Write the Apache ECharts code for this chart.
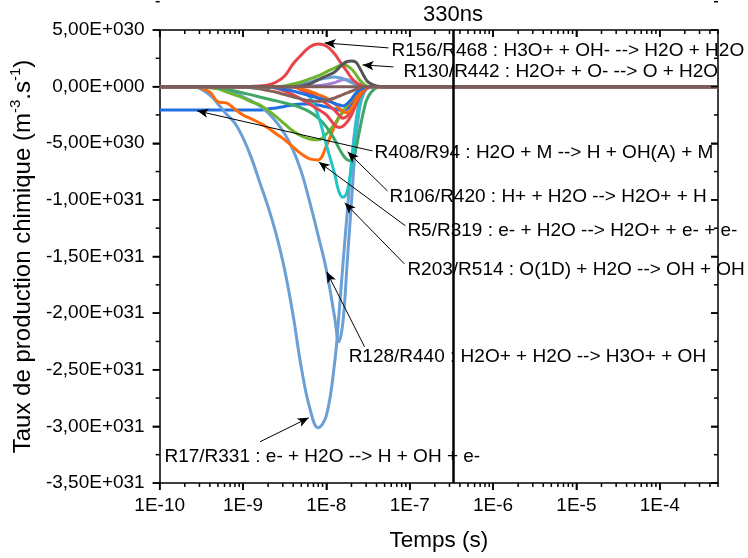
<!DOCTYPE html>
<html><head><meta charset="utf-8">
<script src="https://cdn.jsdelivr.net/npm/echarts@6/dist/echarts.min.js"></script>
<style>html,body{margin:0;padding:0;background:#fff}#c{width:748px;height:558px}</style>
</head><body><div id="c"></div>
<script>
// ---- data (time in s, production rate in m^-3.s^-1) ----
const times = [1e-10, 2.51e-10, 3.98e-10, 5.01e-10, 6.31e-10, 7.94e-10, 1e-9, 1.26e-9, 1.58e-9, 2.0e-9,
  2.51e-9, 3.16e-9, 3.98e-9, 5.01e-9, 6.31e-9, 7.94e-9, 1e-8, 1.26e-8, 1.41e-8, 1.58e-8,
  1.78e-8, 2.0e-8, 2.24e-8, 2.51e-8, 2.82e-8, 3.16e-8, 3.98e-8, 5.01e-8, 1e-7, 5e-4];

const r408 = [-2.06e30,-2.06e30,-2.06e30,-2.06e30,-2.06e30,-2.06e30,-2.06e30,-2.06e30,-2.06e30,-1.97e30,
  -1.88e30,-1.75e30,-1.62e30,-1.53e30,-1.53e30,-1.62e30,-1.79e30,-1.97e30,-2.06e30,-2.10e30,
  -1.97e30,-1.53e30,-0.91e30,-0.38e30,-0.11e30,-0.03e30,0,0,0,0];
const r17 = [0,0,-0.73e30,-1.53e30,-2.42e30,-3.21e30,-4.53e30,-6.29e30,-8.41e30,-10.62e30,
  -13.09e30,-16.18e30,-20.15e30,-24.83e30,-28.36e30,-30.12e30,-29.06e30,-24.3e30,-20.3e30,-15.7e30,
  -11.1e30,-6.73e30,-3.29e30,-1.26e30,-0.38e30,-0.07e30,0,0,0,0];
const r128 = [0,0,0,-0.11e30,-0.29e30,-0.56e30,-0.91e30,-1.26e30,-1.7e30,-2.32e30,
  -3.12e30,-4.17e30,-5.59e30,-7.53e30,-10.18e30,-13.09e30,-16.18e30,-20.42e30,-22.53e30,-20.77e30,
  -15.47e30,-10.18e30,-5.15e30,-1.88e30,-0.56e30,-0.11e30,0,0,0,0];
const r5 = [0,0,-0.47e30,-1.35e30,-1.44e30,-1.97e30,-2.5e30,-2.85e30,-3.21e30,-3.65e30,
  -4.18e30,-4.7e30,-5.32e30,-5.94e30,-6.38e30,-6.47e30,-5.23e30,-3.47e30,-2.76e30,-2.23e30,
  -1.7e30,-1.26e30,-0.82e30,-0.47e30,-0.2e30,-0.07e30,0,0,0,0];
const limeNeg = [0,0,-0.1e30,-0.2e30,-0.47e30,-0.73e30,-0.99e30,-1.35e30,-1.61e30,-2.1e30,
  -2.67e30,-3.3e30,-3.92e30,-4.36e30,-4.62e30,-4.7e30,-4.18e30,-3.3e30,-2.7e30,-2.23e30,
  -1.6e30,-1.15e30,-0.7e30,-0.4e30,-0.15e30,-0.05e30,0,0,0,0];
const r106 = [0,0,0,-0.11e30,-0.2e30,-0.38e30,-0.56e30,-0.73e30,-0.91e30,-1.09e30,
  -1.26e30,-1.44e30,-1.62e30,-1.88e30,-2.23e30,-2.76e30,-3.56e30,-4.7e30,-5.41e30,-6.03e30,
  -6.47e30,-6.56e30,-5.59e30,-3.82e30,-2.06e30,-0.91e30,-0.11e30,0,0,0];
const r203 = [0,0,0,0,0,0,0,0,0,0,
  0,0,-0.04e30,-0.2e30,-0.91e30,-2.5e30,-5.15e30,-7.73e30,-9.23e30,-9.76e30,
  -9.23e30,-6.9e30,-3.8e30,-1.44e30,-0.47e30,-0.11e30,0,0,0,0];
const redNegA = [0,0,0,0,0,0,0,0,0,-0.05e30,
  -0.15e30,-0.4e30,-0.7e30,-1.1e30,-1.55e30,-2.0e30,-2.5e30,-3.4e30,-3.6e30,-3.5e30,
  -3.1e30,-2.5e30,-1.7e30,-0.9e30,-0.4e30,-0.1e30,0,0,0,0];
const redNegB = [0,0,0,0,0,0,0,0,0,0,
  0,0,0,-0.3e30,-0.6e30,-1.0e30,-1.5e30,-2.1e30,-2.5e30,-2.8e30,
  -2.6e30,-2.0e30,-1.2e30,-0.6e30,-0.2e30,0,0,0,0,0];
const orangeNeg = [0,0,0,0,0,0,0,0,0,0,
  0,0,0,-0.2e30,-0.4e30,-0.7e30,-1.0e30,-1.5e30,-1.9e30,-2.2e30,
  -2.3e30,-1.9e30,-1.3e30,-0.7e30,-0.25e30,-0.05e30,0,0,0,0];
const blueNeg = [0,0,0,0,0,0,0,0,0,-0.05e30,
  -0.1e30,-0.25e30,-0.4e30,-0.6e30,-0.8e30,-1.0e30,-1.2e30,-1.5e30,-1.6e30,-1.7e30,
  -1.5e30,-1.1e30,-0.6e30,-0.3e30,-0.1e30,0,0,0,0,0];
const brownNeg = [0,0,0,0,0,0,-0.05e30,-0.1e30,-0.2e30,-0.35e30,
  -0.5e30,-0.7e30,-0.9e30,-1.1e30,-1.25e30,-1.3e30,-1.2e30,-1.0e30,-0.85e30,-0.7e30,
  -0.55e30,-0.4e30,-0.25e30,-0.1e30,0,0,0,0,0,0];
const purplePos = [0,0,0,0,0,0,0,0,0,0,
  0,0,0,0.02e30,0.05e30,0.1e30,0.2e30,0.35e30,0.5e30,0.6e30,
  0.6e30,0.5e30,0.35e30,0.2e30,0.08e30,0.02e30,0,0,0,0];
const lightBluePos = [0,0,0,0,0,0,0,0,0,0,
  0,0.02e30,0.05e30,0.2e30,0.4e30,0.6e30,0.75e30,0.85e30,0.8e30,0.7e30,
  0.55e30,0.35e30,0.2e30,0.08e30,0.02e30,0,0,0,0,0];
const limePos = [0,0,0,0,0,0,0,0,0,0,
  0,0.06e30,0.24e30,0.41e30,0.68e30,0.94e30,1.3e30,1.65e30,1.83e30,1.92e30,
  1.83e30,1.56e30,1.12e30,0.59e30,0.24e30,0.02e30,0,0,0,0];
const r156 = [0,0,0,0,0,0,0,0.02e30,0.06e30,0.15e30,
  0.41e30,0.94e30,2.0e30,2.8e30,3.5e30,3.77e30,3.59e30,2.88e30,2.36e30,1.83e30,
  1.3e30,0.77e30,0.41e30,0.15e30,0.02e30,0,0,0,0,0];
const r130 = [0,0,0,0,0,0,0,0,0,0,
  0,0,0,0.06e30,0.24e30,0.59e30,0.94e30,1.3e30,1.65e30,2.0e30,
  2.22e30,2.27e30,2.18e30,1.65e30,0.94e30,0.41e30,0.06e30,0,0,0];
const zeroLine = [0,0,0,0,0,0,0,0,0,0,0,0,0,0,0,0,0,0,0,0,0,0,0,0,0,0,0,0,0,0];

// ---- tick labels ----
const xMajorTicks = [1e-10, 1e-9, 1e-8, 1e-7, 1e-6, 1e-5, 1e-4];
const xMin = 1e-10, xMax = 5e-4;
const yMin = -3.5e31, yMax = 5e30, yStep = 5e30;
const markerTime = 3.3e-7;
const markerLabel = '330ns';

// ---- annotations: text, text anchor, arrow tail, arrow tip (data coords) ----
const noteTexts = [
  'R156/R468 : H3O+ + OH- --> H2O + H2O',
  'R130/R442 : H2O+ + O- --> O + H2O',
  'R408/R94 : H2O + M --> H + OH(A) + M',
  'R106/R420 : H+ + H2O --> H2O+ + H',
  'R5/R319 : e- + H2O --> H2O+ + e- + e-',
  'R203/R514 : O(1D) + H2O --> OH + OH',
  'R128/R440 : H2O+ + H2O --> H3O+ + OH',
  'R17/R331 : e- + H2O --> H + OH + e-'
];
const noteAnchors = [[6.04e-8,3.15e30],[8.41e-8,1.30e30],[3.78e-8,-5.85e30],[5.71e-8,-9.74e30],
  [9.38e-8,-12.74e30],[9.38e-8,-16.18e30],[1.85e-8,-23.86e30],[1.14e-10,-32.68e30]];
const noteTails = [[5.56e-8,3.42e30],[6.38e-8,1.74e30],[3.58e-8,-5.68e30],[5.41e-8,-9.21e30],
  [8.88e-8,-12.29e30],[8.64e-8,-15.65e30],[2.87e-8,-22.97e30],[1.60e-9,-31.36e30]];
const noteTips = [[9.55e-9,3.86e30],[2.72e-8,1.92e30],[2.82e-10,-2.14e30],[1.80e-8,-5.76e30],
  [8.10e-9,-6.65e30],[1.66e-8,-10.26e30],[1.01e-8,-16.35e30],[6.15e-9,-29.24e30]];

// ---- build ----
const FONT = '"Liberation Sans", Arial, sans-serif';
const xMinorTicks = [];
for (let e = -10; e <= -4; e++) for (let m = 2; m <= 9; m++) {
  const v = Number((m * Math.pow(10, e)).toPrecision(3));
  if (v <= xMax * 1.0001) xMinorTicks.push(v);
}
const yMajorTicks = [], yMinorTicks = [];
for (let k = 0; yMin + k * yStep <= yMax + 1; k++) {
  yMajorTicks.push(yMin + k * yStep);
  if (yMin + k * yStep < yMax - 1) yMinorTicks.push(yMin + (k + 0.5) * yStep);
}
function sci(v) {
  if (Math.abs(v) < 1e20) return '0,00E+000';
  const s = v < 0 ? '-' : '';
  const a = Math.abs(v);
  let e = Math.floor(Math.log10(a) + 1e-9);
  let ms = (a / Math.pow(10, e)).toFixed(2);
  if (ms === '10.00') { e++; ms = '1.00'; }
  return s + ms.replace('.', ',') + 'E' + (e >= 0 ? '+' : '-') + String(Math.abs(e)).padStart(3, '0');
}
const pairs = vals => times.map((t, i) => [t, vals[i]]);

const seriesDefs = [
  [r408, '#1f6fe0'], [r17, '#6b9fd5'], [r128, '#6b9fd5'], [r5, '#ff6a0a'], [limeNeg, '#6cb52c'],
  [r106, '#3ea766'], [r203, '#1fc6c8'], [redNegA, '#e8454b'], [redNegB, '#e8454b'], [orangeNeg, '#ff6a0a'],
  [blueNeg, '#1f6fe0'], [brownNeg, '#8a5f58'], [purplePos, '#a27fd8'], [lightBluePos, '#6b9fd5'],
  [limePos, '#6cb52c'], [r156, '#e8454b'], [r130, '#555555']
];
const series = seriesDefs.map(([vals, color]) => ({
  type: 'line', data: pairs(vals), showSymbol: false, smooth: 0.4, silent: true,
  lineStyle: { color, width: 3 }, itemStyle: { color }, xAxisIndex: 0, yAxisIndex: 0
}));

const arrowData = noteTips.map((tip, i) => [
  { coord: noteTails[i], symbol: 'none' },
  { coord: tip, symbol: 'arrow', symbolSize: [7, 11] }
]);
const markerData = [[
  { coord: [markerTime, yMax], symbol: 'none',
    label: { show: true, position: 'start', formatter: markerLabel, fontSize: 22, color: '#000', fontFamily: FONT, distance: 4 },
    lineStyle: { color: '#000', width: 2.5, type: 'solid' } },
  { coord: [markerTime, yMin], symbol: 'none' }
]];
series.push({
  type: 'line', data: pairs(zeroLine), showSymbol: false, silent: true,
  xAxisIndex: 0, yAxisIndex: 0,
  lineStyle: { color: '#7d5d59', width: 3 }, itemStyle: { color: '#7d5d59' },
  markLine: {
    silent: true, animation: false, symbol: ['none', 'none'],
    label: { show: false },
    lineStyle: { color: '#000', width: 1, type: 'solid' },
    emphasis: { disabled: true },
    data: markerData.concat(arrowData)
  },
  markPoint: {
    silent: true, animation: false, symbol: 'circle', symbolSize: 0,
    itemStyle: { color: 'rgba(0,0,0,0)' },
    label: { show: true, position: 'right', distance: 0, color: '#000', fontSize: 19, fontFamily: FONT },
    data: noteAnchors.map((c, i) => ({ coord: c, label: { formatter: noteTexts[i] } }))
  }
});

// frame ticks (outward on bottom/left, inward on top/right), placed through the axes' scales
// each item: [x value, y value, length in px, direction 0 = downward, 1 = leftward]
const frameTicks = [];
xMajorTicks.forEach(t => frameTicks.push([t, yMin, 7, 0], [t, yMax, 7, 0]));
xMinorTicks.forEach(t => frameTicks.push([t, yMin, 4, 0], [t, yMax, 4, 0]));
yMajorTicks.forEach(v => frameTicks.push([xMin, v, 7, 1], [xMax, v, 7, 1]));
yMinorTicks.forEach(v => frameTicks.push([xMin, v, 4, 1], [xMax, v, 4, 1]));
series.push({
  type: 'custom', coordinateSystem: 'cartesian2d', xAxisIndex: 0, yAxisIndex: 0,
  silent: true, clip: false, z: 10, animation: false,
  data: frameTicks,
  renderItem: (params, api) => {
    const p = api.coord([api.value(0), api.value(1)]);
    const len = api.value(2);
    const shape = api.value(3) === 0
      ? { x1: p[0], y1: p[1], x2: p[0], y2: p[1] + len }
      : { x1: p[0], y1: p[1], x2: p[0] - len, y2: p[1] };
    return { type: 'line', shape, style: { stroke: '#000', lineWidth: 1.5 } };
  }
});

const ink = () => ({ color: '#000', width: 1.5 });
const option = {
  animation: false,
  grid: { left: 157, right: 30, top: 30, bottom: 75 },
  xAxis: [
    {
      type: 'log', logBase: 10, min: xMin, max: xMax, position: 'bottom',
      axisLine: { show: true, onZero: false, lineStyle: ink() },
      axisTick: { show: true, length: 7, customValues: xMajorTicks, lineStyle: ink() },
      axisLabel: { show: true, customValues: xMajorTicks, fontSize: 19, color: '#000', margin: 13, fontFamily: FONT,
        formatter: v => '1E' + Math.round(Math.log10(v)) },
      splitLine: { show: false },
      name: 'Temps (s)', nameLocation: 'middle', nameGap: 46,
      nameTextStyle: { fontSize: 22.5, color: '#000', fontFamily: FONT }
    },
    {
      type: 'log', logBase: 10, min: xMin, max: xMax, position: 'top',
      axisLine: { show: true, onZero: false, lineStyle: ink() },
      axisTick: { show: true, inside: true, length: 7, customValues: xMajorTicks, lineStyle: ink() },
      axisLabel: { show: false }, splitLine: { show: false }
    }
  ],
  yAxis: [
    {
      type: 'value', min: yMin, max: yMax, interval: yStep, position: 'left',
      axisLine: { show: true, onZero: false, lineStyle: ink() },
      axisTick: { show: true, length: 7, lineStyle: ink() },
      axisLabel: { show: true, formatter: sci, fontSize: 19, color: '#000', margin: 15, fontFamily: FONT },
      splitLine: { show: false },
      name: '{a|Taux de production chimique (m}{s|-3}{a|.s}{s|-1}{a|)}',
      nameLocation: 'middle', nameGap: 120,
      nameTextStyle: { color: '#000', rich: {
        a: { fontSize: 24, lineHeight: 30, color: '#000', fontFamily: FONT },
        s: { fontSize: 15, lineHeight: 15, verticalAlign: 'top', color: '#000', fontFamily: FONT }
      } }
    },
    {
      type: 'value', min: yMin, max: yMax, interval: yStep, position: 'right',
      axisLine: { show: true, onZero: false, lineStyle: ink() },
      axisTick: { show: true, inside: true, length: 7, lineStyle: ink() },
      axisLabel: { show: false }, splitLine: { show: false }
    }
  ],
  series
};
const chart = echarts.init(document.getElementById('c'), null, { renderer: 'canvas' });
chart.setOption(option);
</script>
</body></html>
